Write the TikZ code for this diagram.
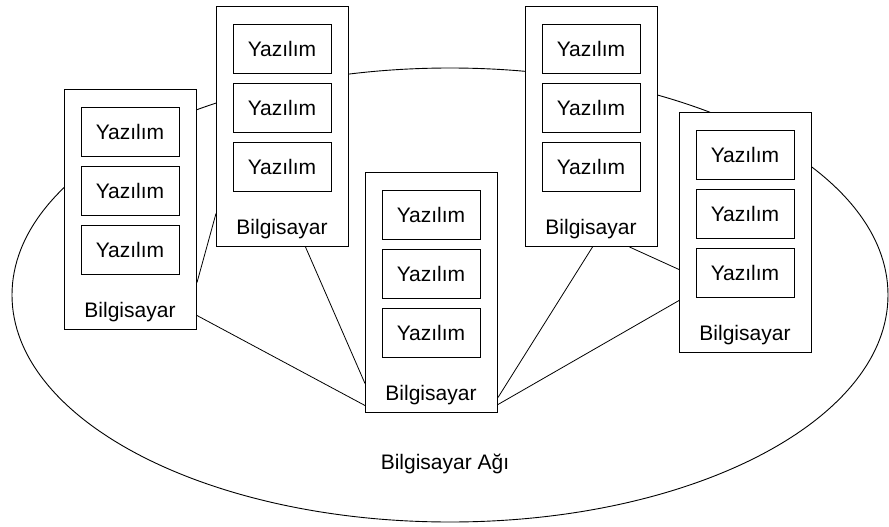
\documentclass[tikz,border=0pt]{standalone}
\usepackage{fontspec}
\setmainfont{Liberation Sans}
\usetikzlibrary{shapes.geometric}

\tikzset{
  computer/.style={draw=black, fill=white, line width=1pt, inner sep=0pt,
    minimum width=132pt, minimum height=240pt, anchor=north west},
  software/.style={draw=black, fill=white, line width=1pt, inner sep=0pt,
    minimum width=98pt, minimum height=49pt, font=\fontsize{21}{25}\selectfont},
  caption/.style={inner sep=0pt, font=\fontsize{21}{25}\selectfont},
  link/.style={draw=black, line width=0.8pt},
  network/.style={draw=black, line width=0.9pt, ellipse, inner sep=0pt,
    minimum width=876pt, minimum height=454pt}
}

% one computer with three software boxes and its caption
\newcommand{\computerbox}[3]{%
  \node[computer] (#1) at (#2,#3) {};
  \node[software] (#1a) at ($(#2,#3)+(66,43)$) {Yazılım};
  \node[software] (#1b) at ($(#2,#3)+(66,102)$) {Yazılım};
  \node[software] (#1c) at ($(#2,#3)+(66,161)$) {Yazılım};
  \node[caption] (#1l) at ($(#2,#3)+(66,223)$) {Bilgisayar};
}

\usetikzlibrary{calc}

\begin{document}
\begin{tikzpicture}[x=1pt, y=-1pt]
  \useasboundingbox (0,0) rectangle (889,527);

  % the network
  \node[network] (net) at (450,295) {};
  \node[caption] (netlabel) at (445,464) {Bilgisayar Ağı};

  % computers
  \computerbox{c1}{64}{89}
  \computerbox{c2}{216}{6}
  \computerbox{c3}{365}{172}
  \computerbox{c4}{525}{6}
  \computerbox{c5}{679}{112}

  % links between computers
  \draw[link] ([yshift=-73pt]c1.east) -- ([yshift=-87pt]c2.west);
  \draw[link] ([yshift=-106pt]c1.east) -- ([yshift=-113pt]c3.west);
  \draw[link] ([xshift=23pt]c2.south) -- ([yshift=-91pt]c3.west);
  \draw[link] ([yshift=-105pt]c3.east) -- ([xshift=1pt]c4.south);
  \draw[link] ([yshift=-112pt]c3.east) -- ([yshift=-68pt]c5.west);
  \draw[link] ([xshift=38pt]c4.south) -- ([yshift=-37pt]c5.west);
\end{tikzpicture}
\end{document}
